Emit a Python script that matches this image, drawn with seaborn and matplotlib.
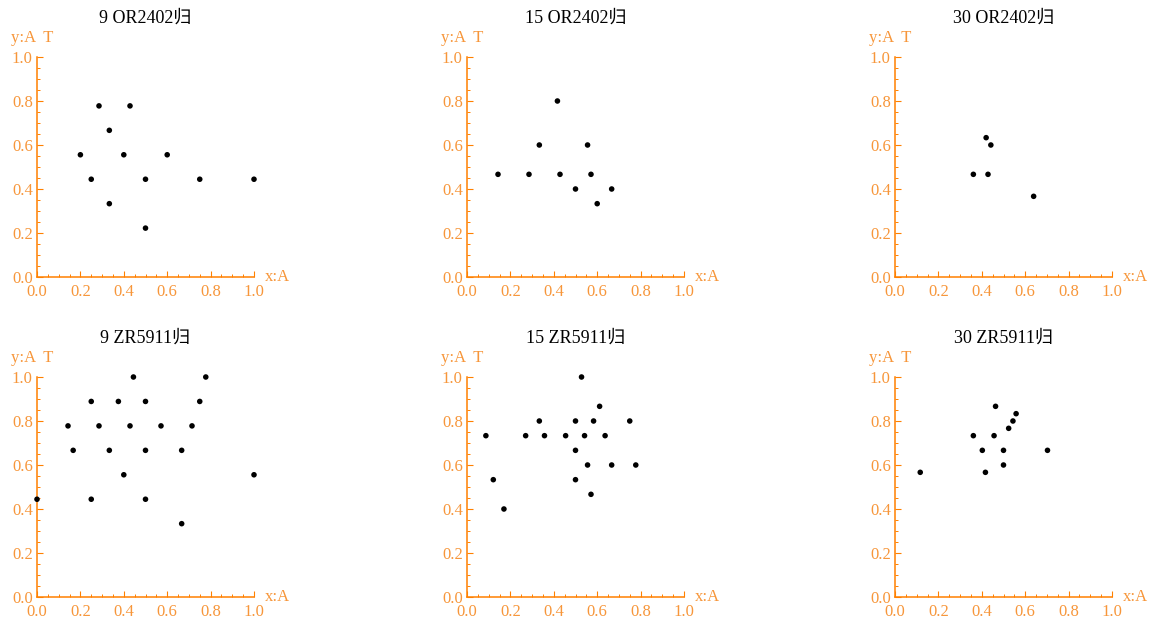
import matplotlib
matplotlib.use("Agg")
import matplotlib.pyplot as plt
import seaborn as sns
import pandas as pd
from matplotlib.ticker import MultipleLocator

sns.set_theme(style="white")
plt.rcParams['font.family'] = ['Liberation Serif', 'Noto Sans CJK SC', 'DejaVu Sans']

titles = ["9 OR2402归", "15 OR2402归", "30 OR2402归",
          "9 ZR5911归", "15 ZR5911归", "30 ZR5911归"]

x1 = [0.2857, 0.4286, 0.3333, 0.2, 0.4, 0.6, 0.25, 0.5, 0.75, 1.0, 0.3333, 0.5]
y1 = [0.7778, 0.7778, 0.6667, 0.5556, 0.5556, 0.5556, 0.4444, 0.4444, 0.4444, 0.4444, 0.3333, 0.2222]

x2 = [0.1429, 0.2857, 0.3333, 0.4167, 0.4286, 0.5, 0.5556, 0.5714, 0.6667, 0.6]
y2 = [0.4667, 0.4667, 0.6, 0.8, 0.4667, 0.4, 0.6, 0.4667, 0.4, 0.3333]

x3 = [0.3611, 0.42, 0.4417, 0.4286, 0.6389]
y3 = [0.4667, 0.6333, 0.6, 0.4667, 0.3667]

x4 = [0.4444, 0.7778, 0.25, 0.375, 0.5, 0.75, 0.1429, 0.2857, 0.4286, 0.5714,
      0.7143, 0.1667, 0.3333, 0.5, 0.6667, 0.4, 1.0, 0.0, 0.25, 0.5, 0.6667]
y4 = [1.0, 1.0, 0.8889, 0.8889, 0.8889, 0.8889, 0.7778, 0.7778, 0.7778, 0.7778,
      0.7778, 0.6667, 0.6667, 0.6667, 0.6667, 0.5556, 0.5556, 0.4444, 0.4444, 0.4444, 0.3333]

x5 = [0.0870, 0.1212, 0.1702, 0.2703, 0.3333, 0.3571, 0.4545, 0.5, 0.5, 0.5,
      0.5278, 0.5417, 0.5556, 0.5714, 0.5833, 0.6111, 0.6364, 0.6667, 0.75, 0.7778]
y5 = [0.7333, 0.5333, 0.4, 0.7333, 0.8, 0.7333, 0.7333, 0.8, 0.6667, 0.5333,
      1.0, 0.7333, 0.6, 0.4667, 0.8, 0.8667, 0.7333, 0.6, 0.8, 0.6]

x6 = [0.1163, 0.3611, 0.4024, 0.4167, 0.4565, 0.4634, 0.5, 0.5, 0.5238, 0.5435, 0.5581, 0.7027]
y6 = [0.5667, 0.7333, 0.6667, 0.5667, 0.7333, 0.8667, 0.6667, 0.6, 0.7667, 0.8, 0.8333, 0.6667]

xs = [x1, x2, x3, x4, x5, x6]
ys = [y1, y2, y3, y4, y5, y6]

ticks = [0.0, 0.2, 0.4, 0.6, 0.8, 1.0]
tick_labels = ["0.0", "0.2", "0.4", "0.6", "0.8", "1.0"]

AX = '#FF8000'
TX = '#F7963A'

W, H = 1152, 624
fig = plt.figure(figsize=(W / 100, H / 100), dpi=100)

lefts = [37, 467, 895]
tops = [57, 377]
aw, ah = 217, 220

for i in range(6):
    r, c = divmod(i, 3)
    l = lefts[c]
    t = tops[r]
    ax = fig.add_axes([l / W, (H - t - ah) / H, aw / W, ah / H])
    df = pd.DataFrame({"x": xs[i], "y": ys[i]})
    sns.scatterplot(data=df, x="x", y="y", ax=ax, color='black', s=16,
                    edgecolor='none', linewidth=0, clip_on=False, zorder=5)
    ax.set_xlim(0, 1)
    ax.set_ylim(0, 1)
    ax.set_facecolor('none')
    for sp in ['top', 'right']:
        ax.spines[sp].set_visible(False)
    for sp in ['left', 'bottom']:
        ax.spines[sp].set_color(AX)
        ax.spines[sp].set_linewidth(1.1)
    ax.set_xticks(ticks)
    ax.set_yticks(ticks)
    ax.set_xticklabels(tick_labels)
    ax.set_yticklabels(tick_labels)
    ax.xaxis.set_minor_locator(MultipleLocator(0.05))
    ax.yaxis.set_minor_locator(MultipleLocator(0.05))
    ax.tick_params(which='major', direction='in', length=4, width=0.8, color=AX,
                   labelcolor=TX, labelsize=12, bottom=True, left=True)
    ax.tick_params(axis='x', which='major', pad=5)
    ax.tick_params(axis='y', which='major', pad=3)
    ax.tick_params(which='minor', direction='in', length=2.5, width=0.7, color=AX,
                   bottom=True, left=True)
    ax.set_xlabel("")
    ax.set_ylabel("")
    ax.set_title(titles[i], fontsize=13, color='black', pad=25)
    ax.text(-0.122, 1.085, "y:A  T", transform=ax.transAxes, color=TX,
            fontsize=12, ha='left', va='center')
    ax.text(1.05, 0.0, "x:A", transform=ax.transAxes, color=TX,
            fontsize=12, ha='left', va='center')

fig.savefig("out.png", dpi=100)
